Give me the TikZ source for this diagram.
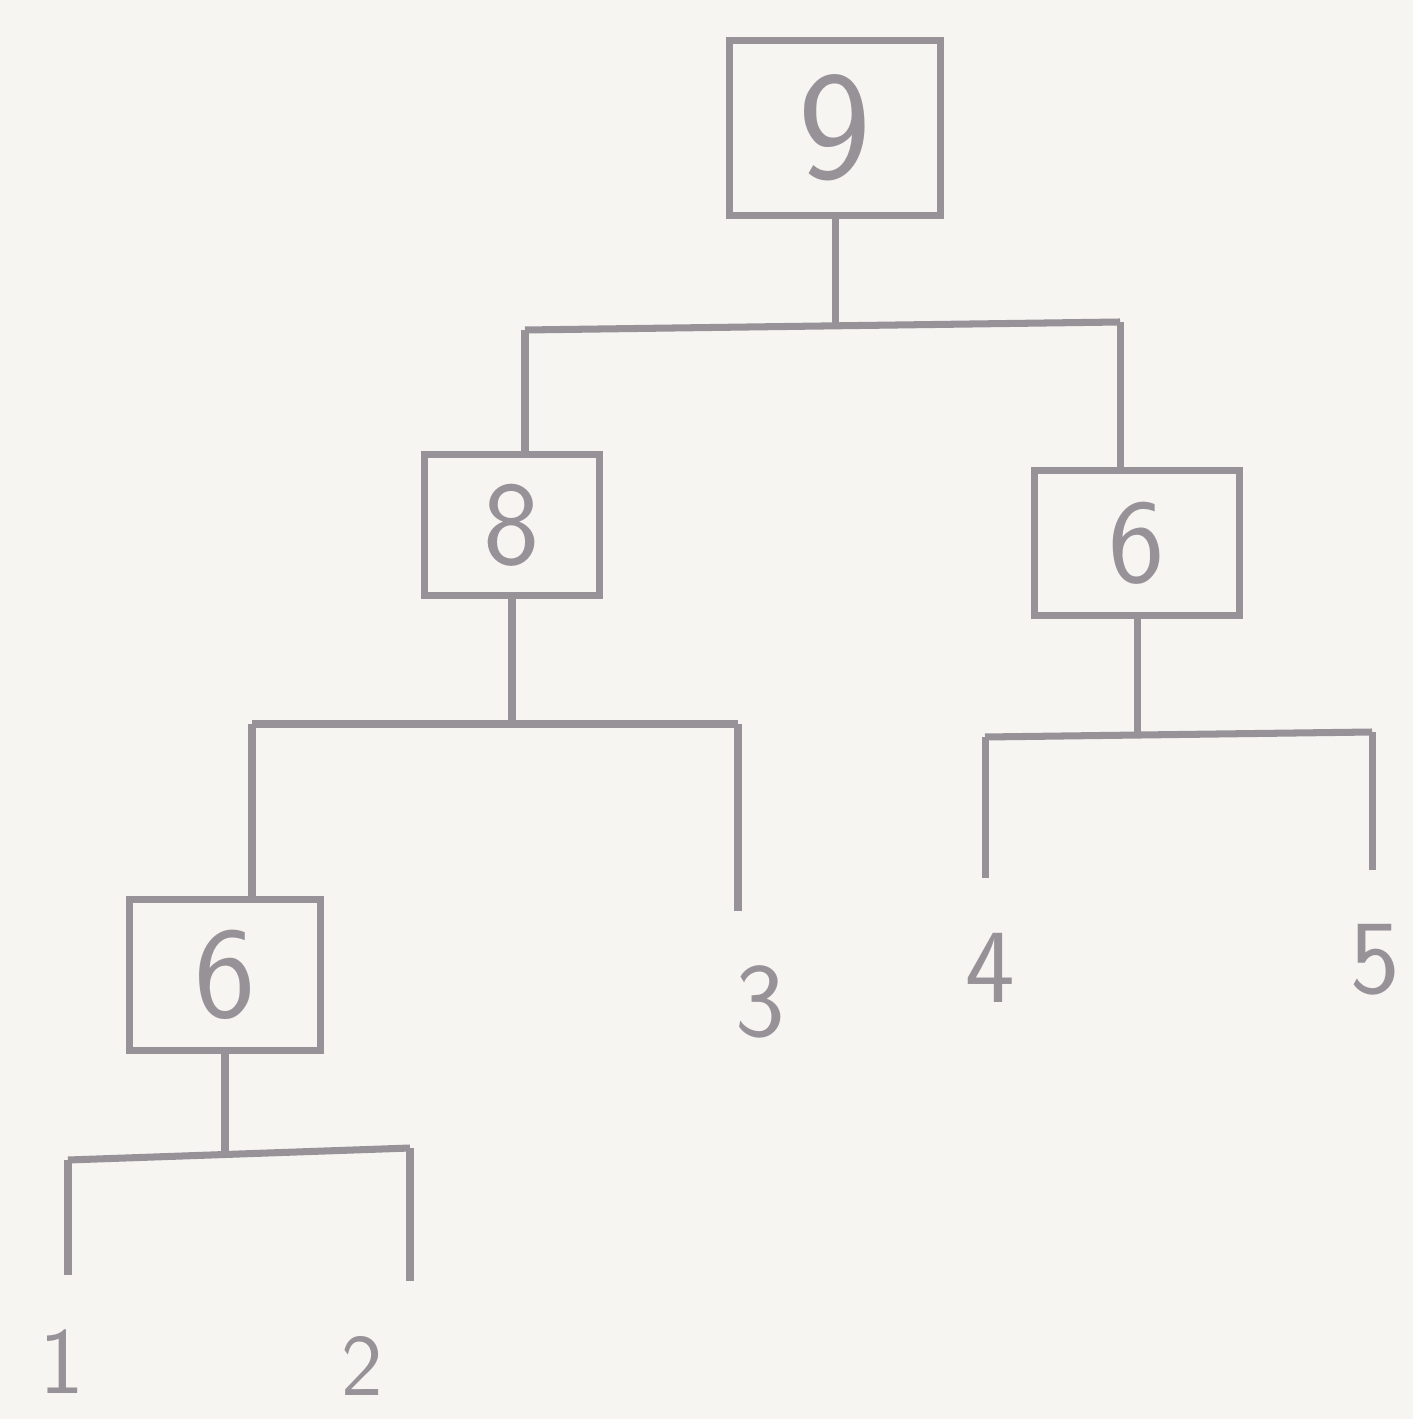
\documentclass[tikz,border=0pt]{standalone}
\usepackage{tikz}
\usetikzlibrary{positioning, calc}
\definecolor{pencil}{RGB}{150,146,152}
\definecolor{paper}{RGB}{247,245,242}

\begin{document}
\begin{tikzpicture}[
    x=0.01cm, y=-0.01cm,
    line width=2pt, draw=pencil,
    every node/.style={text=pencil, font=\sffamily},
    mergebox/.style={draw=pencil, line width=2pt, inner sep=0pt, font=\sffamily\fontsize{34}{34}\selectfont},
    leaf/.style={inner sep=0pt, outer sep=0.55cm, font=\sffamily\fontsize{30}{30}\selectfont},
]
    \fill[paper] (0,0) rectangle (1413,1419);
    \useasboundingbox (0,0) rectangle (1413,1419);

    % Merge boxes
    \node[mergebox, minimum width=2.1cm, minimum height=1.75cm, font=\sffamily\fontsize{44}{44}\selectfont] (root) at (835,128) {9};
    \node[mergebox, minimum width=1.75cm, minimum height=1.4cm] (n8) at (512,525) {8};
    \node[mergebox, minimum width=2.05cm, minimum height=1.45cm] (n6r) at (1137,543) {6};
    \node[mergebox, minimum width=1.9cm, minimum height=1.5cm, font=\sffamily\fontsize{37}{37}\selectfont] (n6l) at (225,975) {6};

    % Leaves
    \node[leaf, font=\sffamily\fontsize{27}{27}\selectfont] (l1) at (62,1362) {1};
    \node[leaf, font=\sffamily\fontsize{25}{25}\selectfont] (l2) at (362,1366) {2};
    \node[leaf] (l3) at (760,1002) {3};
    \node[leaf] (l4) at (990,968) {4};
    \node[leaf] (l5) at (1375,960) {5};

    % Junctions and bar ends
    \coordinate (j9) at (835,325);
    \coordinate (b9l) at (525,330);
    \coordinate (b9r) at (1120,322);
    \coordinate (j8) at (512,725);
    \coordinate (b8l) at (252,724);
    \coordinate (b8r) at (738,724);
    \coordinate (j6r) at (1137,735);
    \coordinate (b6rl) at (985,737);
    \coordinate (b6rr) at (1372,732);
    \coordinate (j6l) at (225,1153);
    \coordinate (b6ll) at (68,1160);
    \coordinate (b6lr) at (410,1148);

    % Root split
    \draw (root.south) -- (j9);
    \draw (b9l) -- (b9r);
    \draw (b9l) -- (b9l |- n8.north);
    \draw (b9r) -- (b9r |- n6r.north);

    % Split under 8
    \draw (n8.south) -- (j8);
    \draw (b8l) -- (b8r);
    \draw (b8l) -- (b8l |- n6l.north);
    \draw (b8r) -- (b8r |- l3.north);

    % Split under right 6
    \draw (n6r.south) -- (j6r);
    \draw (b6rl) -- (b6rr);
    \draw (b6rl) -- (b6rl |- l4.north);
    \draw (b6rr) -- (b6rr |- l5.north);

    % Split under left 6
    \draw (n6l.south) -- (j6l);
    \draw (b6ll) -- (b6lr);
    \draw (b6ll) -- (b6ll |- l1.north);
    \draw (b6lr) -- (b6lr |- l2.north);
\end{tikzpicture}
\end{document}
